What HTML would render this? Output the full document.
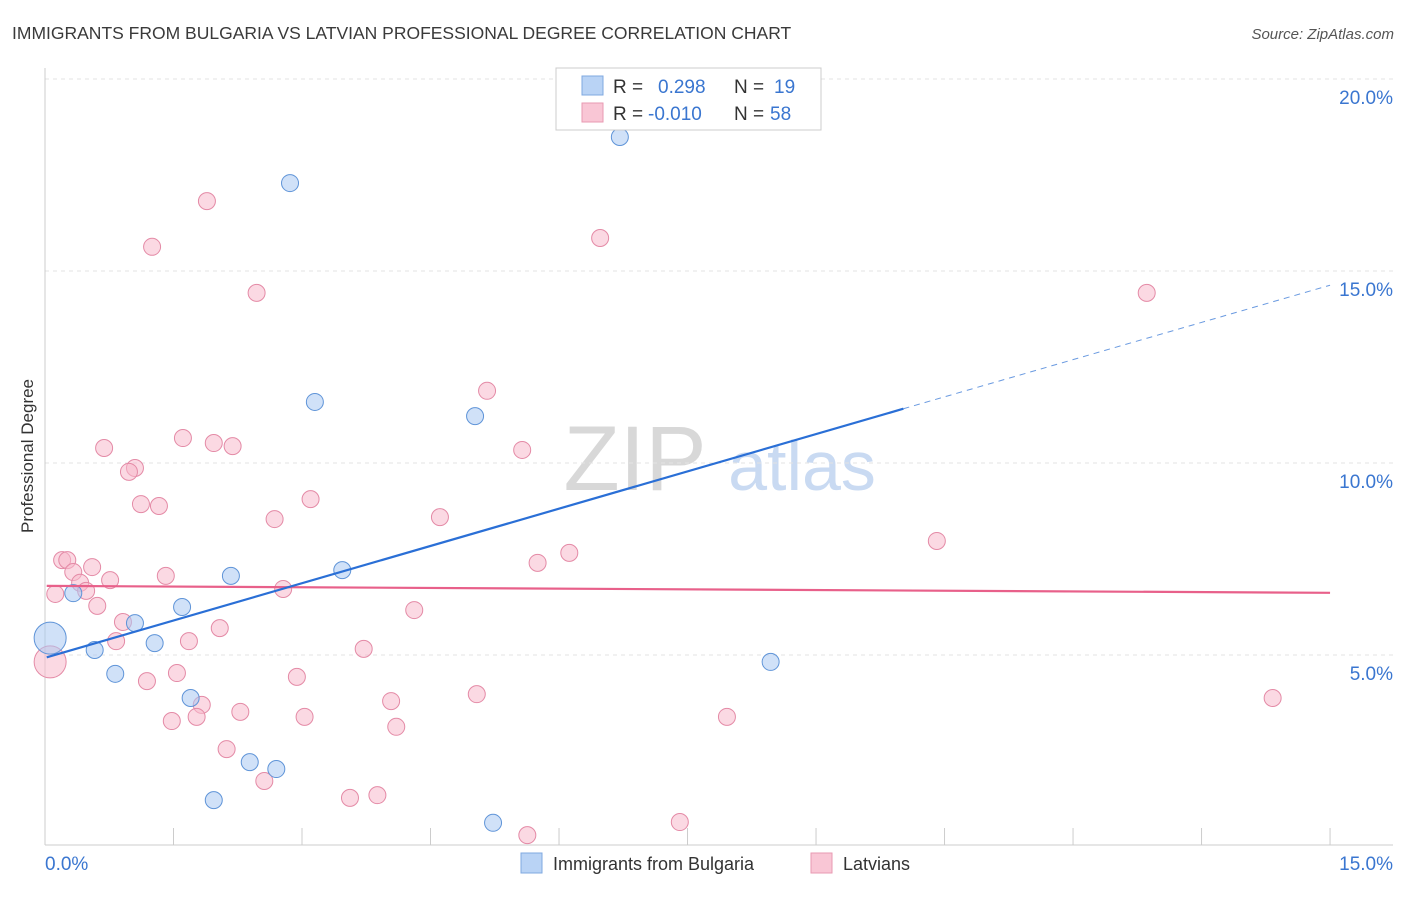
<!DOCTYPE html>
<html><head><meta charset="utf-8"><style>
body{margin:0;background:#fff;font-family:"Liberation Sans",sans-serif}
svg text{font-family:"Liberation Sans",sans-serif}
</style></head><body>
<svg id="chart" width="1406" height="892" xmlns="http://www.w3.org/2000/svg">
<text x="12" y="39" font-size="17.5" fill="#3a3a3a">IMMIGRANTS FROM BULGARIA VS LATVIAN PROFESSIONAL DEGREE CORRELATION CHART</text>
<text x="1394" y="39" font-size="15" fill="#555" font-style="italic" text-anchor="end">Source: ZipAtlas.com</text>
<text transform="translate(33,456) rotate(-90)" font-size="17" fill="#333" text-anchor="middle">Professional Degree</text>
<g>
<text x="635" y="490" font-size="92" fill="#d8d8d8" font-family="Liberation Serif" text-anchor="middle">ZIP</text>
<text x="802" y="490" font-size="70" fill="#c9daf2" text-anchor="middle">atlas</text>
</g>
<g id="grid"></g><g id="axes"></g><g id="marks"></g>
<g>
<rect x="556" y="68" width="265" height="62" fill="#fff" stroke="#ccc"/>
<rect x="582" y="76" width="21" height="19" fill="#b9d3f5" stroke="#7fa8e0"/>
<text x="613" y="93" font-size="19" fill="#333">R =</text>
<text x="658" y="93" font-size="19" fill="#3a76d0">0.298</text>
<text x="734" y="93" font-size="19" fill="#333">N =</text>
<text x="774" y="93" font-size="19" fill="#3a76d0">19</text>
<rect x="582" y="103" width="21" height="19" fill="#f9c6d5" stroke="#e89ab2"/>
<text x="613" y="120" font-size="19" fill="#333">R =</text>
<text x="648" y="120" font-size="19" fill="#3a76d0">-0.010</text>
<text x="734" y="120" font-size="19" fill="#333">N =</text>
<text x="770" y="120" font-size="19" fill="#3a76d0">58</text>
</g>
<g>
<rect x="521" y="853" width="21" height="20" fill="#b9d3f5" stroke="#7fa8e0"/>
<text x="553" y="870" font-size="18" fill="#333">Immigrants from Bulgaria</text>
<rect x="811" y="853" width="21" height="20" fill="#f9c6d5" stroke="#e89ab2"/>
<text x="843" y="870" font-size="18" fill="#333">Latvians</text>
</g>
</svg>
<script>
const yTicks=[5,10,15,20];
const xTickLabels=["0.0%","15.0%"];
const blueX=[2.86,6.71,3.15,5.02,2.17,3.47,0.33,1.05,1.60,0.58,1.28,0.82,1.70,2.39,2.70,1.97,5.23,8.47,0.06];
const blueY=[17.29,18.49,11.59,11.22,7.06,7.21,6.61,5.83,6.25,5.13,5.31,4.51,3.88,2.21,2.03,1.22,0.63,4.82,5.44];
const pinkX=[1.89,1.25,6.48,2.47,12.86,5.16,0.69,1.61,1.97,2.19,5.57,1.05,0.98,1.12,1.33,3.10,2.68,4.61,10.41,0.20,0.26,0.55,0.33,0.76,0.41,0.48,0.12,1.41,6.12,5.75,2.78,0.61,4.31,0.91,0.83,1.68,2.04,3.72,1.54,1.19,2.94,4.04,5.04,1.83,2.28,1.48,1.77,3.03,7.96,4.10,14.33,2.12,2.56,3.56,3.88,5.63,7.41,0.06];
const pinkY=[16.82,15.63,15.86,14.43,14.43,11.88,10.39,10.65,10.52,10.44,10.34,9.87,9.77,8.93,8.88,9.06,8.54,8.59,7.97,7.47,7.47,7.29,7.16,6.95,6.88,6.67,6.59,7.06,7.66,7.40,6.72,6.28,6.17,5.86,5.36,5.36,5.70,5.16,4.53,4.32,4.43,3.80,3.98,3.70,3.52,3.28,3.39,3.39,3.39,3.13,3.88,2.55,1.72,1.28,1.35,0.31,0.65,4.82];
const blueTrend=[4.94,0.646];
const pinkTrend=[6.80,-0.012];
const blueSolidEnd=[10.02];
const NS="http://www.w3.org/2000/svg";
const X=v=>45+v*85.67, Y=v=>847-v*38.4;
function mk(tag,attrs,parent){const e=document.createElementNS(NS,tag);for(const k in attrs)e.setAttribute(k,attrs[k]);document.getElementById(parent).appendChild(e);return e;}
yTicks.forEach(t=>{
 const g=mk('line',{x1:45,x2:1393,y1:Y(t),y2:Y(t),stroke:'#e3e3e3','stroke-dasharray':'4,4'},'grid');
 
 
 const l=mk('text',{x:1393,y:Y(t)+25,'font-size':19,fill:'#3a76d0','text-anchor':'end'},'grid');
 
 
 l.textContent=t.toFixed(1)+'%';
});
let a=mk('line',{x1:45,x2:45,y1:68,y2:845,stroke:'#ccc'},'axes');


a=mk('line',{x1:45,x2:1393,y1:845,y2:845,stroke:'#ccc'},'axes');


for(let i=1;i<=10;i++){const t=mk('line',{x1:X(i*1.5),x2:X(i*1.5),y1:828,y2:845,stroke:'#ccc'},'axes');
 
 }
[[0,'start'],[15,'end']].forEach((p,i)=>{const t=mk('text',{x:i?1393:45,y:870,'font-size':19,fill:'#3a76d0','text-anchor':p[1]},'axes');
 
 
 t.textContent=xTickLabels[i];});
function dots(xs,ys,fill,stroke,name){xs.forEach((x,i)=>{const big=i===xs.length-1;
 const c=mk('circle',{cx:X(x),cy:Y(ys[i]),r:big?16:8.5,fill:fill,'fill-opacity':0.55,stroke:stroke,'stroke-width':1},'marks');
 
 });}
dots(pinkX,pinkY,'#f7b9cc','#e48aa6','latvians-point');
dots(blueX,blueY,'#a9c9f2','#5f94d8','bulgaria-point');
let l=mk('line',{x1:X(0.02),y1:Y(pinkTrend[0]),x2:X(15),y2:Y(pinkTrend[0]+pinkTrend[1]*15),stroke:'#e8608a','stroke-width':2.2},'marks');


l=mk('line',{x1:X(0.02),y1:Y(blueTrend[0]),x2:X(blueSolidEnd[0]),y2:Y(blueTrend[0]+blueTrend[1]*blueSolidEnd[0]),stroke:'#2a6fd6','stroke-width':2.2},'marks');


l=mk('line',{x1:X(blueSolidEnd[0]),y1:Y(blueTrend[0]+blueTrend[1]*blueSolidEnd[0]),x2:X(15),y2:Y(blueTrend[0]+blueTrend[1]*15),stroke:'#6a9ae0','stroke-width':1,'stroke-dasharray':'6,5'},'marks');


</script>
</body></html>
